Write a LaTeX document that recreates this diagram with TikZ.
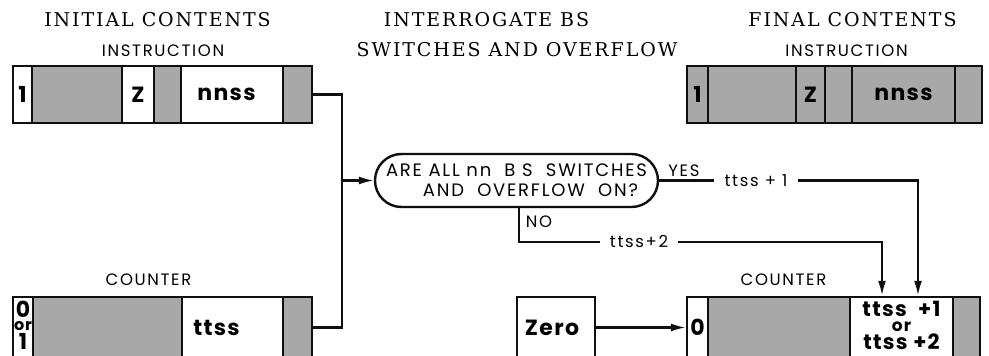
\documentclass[tikz,border=0pt]{standalone}
\usepackage{fontspec}
\usetikzlibrary{arrows.meta,shapes.misc}
\newfontfamily\titlefont{DejaVu Serif}[LetterSpace=10]
\newfontfamily\labfont{Poppins}[LetterSpace=10]
\newfontfamily\cellfont{Poppins}[LetterSpace=6]
\definecolor{shade}{gray}{0.66}
\definecolor{ink}{gray}{0.06}

\begin{document}
\begin{tikzpicture}[x=1pt,y=-1pt,>={Latex[length=15pt,width=8pt]},
 title/.style={font=\titlefont\fontsize{19}{19}\selectfont,inner sep=0pt},
 lab/.style={font=\labfont\fontsize{16.5}{16.5}\selectfont,inner sep=0pt},
 cell/.style={draw=ink,line width=2.4pt,inner sep=0pt,fill=white,font=\cellfont\bfseries\fontsize{22}{22}\selectfont},
 dotcell/.style={cell,fill=shade},
 ins/.style={minimum height=57pt},
 cnt/.style={minimum height=61pt},
 wire/.style={draw=ink,line width=2.2pt},
 arr/.style={->,draw=ink,line width=2.2pt}]
\useasboundingbox (0,0) rectangle (989,356);
% headings
\node[title] (hinit) at (157.5,20) {INITIAL CONTENTS};
\node[title] (hint1) at (486.5,20) {INTERROGATE BS};
\node[title] (hint2) at (517,50) {SWITCHES AND OVERFLOW};
\node[title] (hfin) at (852.5,20) {FINAL CONTENTS};
\node[lab] (linsl) at (163,51) {INSTRUCTION};
\node[lab] (linsr) at (846.5,51) {INSTRUCTION};
\node[lab] (lcntl) at (148.5,280) {COUNTER};
\node[lab] (lcntr) at (783.5,280) {COUNTER};
% initial instruction
\node[cell,ins,minimum width=19pt] (li1) at (22.5,94.5) {1};
\node[dotcell,ins,minimum width=90pt] (li2) at (77,94.5) {};
\node[cell,ins,minimum width=32pt] (li3) at (138,94.5) {Z};
\node[dotcell,ins,minimum width=27pt] (li4) at (167.5,94.5) {};
\node[cell,ins,minimum width=102pt] (li5) at (232,94.5) {nnss\hspace*{11pt}};
\node[dotcell,ins,minimum width=29pt] (li6) at (297.5,94.5) {};
% initial counter
\node[cell,cnt,minimum width=20pt] (lc1) at (23,327.5) {\raisebox{5pt}{\shortstack{\fontsize{22}{22}\selectfont 0\\[1pt]{\fontsize{16}{16}\selectfont or}\\[0pt]\fontsize{22}{22}\selectfont 1}}};
\node[dotcell,cnt,minimum width=149pt] (lc2) at (107.5,327.5) {};
\node[cell,cnt,minimum width=101pt] (lc3) at (232.5,327.5) {ttss\hspace*{32pt}};
\node[dotcell,cnt,minimum width=29pt] (lc4) at (297.5,327.5) {};
% final instruction
\node[dotcell,ins,minimum width=21pt] (ri1) at (697.5,94.5) {1};
\node[dotcell,ins,minimum width=88pt] (ri2) at (752,94.5) {};
\node[dotcell,ins,minimum width=29pt] (ri3) at (810.5,94.5) {Z};
\node[dotcell,ins,minimum width=27pt] (ri4) at (838.5,94.5) {};
\node[dotcell,ins,minimum width=103pt] (ri5) at (903.5,94.5) {nnss};
\node[dotcell,ins,minimum width=27pt] (ri6) at (968.5,94.5) {};
% final counter
\node[cell,cnt,minimum width=21pt] (rc1) at (697.5,327.5) {0};
\node[dotcell,cnt,minimum width=142pt] (rc2) at (779,327.5) {};
\node[cell,cnt,minimum width=103pt,font=\cellfont\bfseries\fontsize{21}{21}\selectfont] (rc3) at (901.5,327.5) {\raisebox{4pt}{\shortstack{ttss\ \ +1\\[2pt]{\fontsize{17}{17}\selectfont or}\\[0pt]ttss\ +2}}};
\node[dotcell,cnt,minimum width=27pt] (rc4) at (966.5,327.5) {};
\node[cell,cnt,minimum width=78pt] (zero) at (556,327.5) {Zero\hspace*{8pt}};
% decision
\node[draw=ink,line width=2.4pt,rounded rectangle,minimum width=283pt,minimum height=53pt,inner sep=0pt,align=center,font=\labfont\fontsize{18}{20}\selectfont] (dec) at (516.5,180.5) {ARE ALL nn\ \ B S\ \ SWITCHES\\\hspace*{28pt}AND\ \ OVERFLOW\ \ ON?};
\node[lab] (yes) at (684,171) {YES};
\node[lab] (no) at (539,222) {NO};
\node[lab,inner xsep=10pt] (t1) at (756,180.5) {ttss + 1};
\node[lab,inner xsep=10pt] (t2) at (639,242) {ttss+2};
% connectors
\coordinate (join) at (342,180.5);
\draw[wire] (li6.east) -| (join);
\draw[wire] (lc4.east) -| (join);
\draw[arr] (join) -- (dec.west);
\draw[wire] (dec.east) -- (t1.west);
\draw[arr] (t1.east) -| ([xshift=16.5pt]rc3.north);
\draw[wire] ([xshift=2.5pt]dec.south) |- (t2.west);
\draw[arr] (t2.east) -| ([xshift=-19.5pt]rc3.north);
\draw[arr] (zero.east) -- (rc1.west);
\end{tikzpicture}
\end{document}
